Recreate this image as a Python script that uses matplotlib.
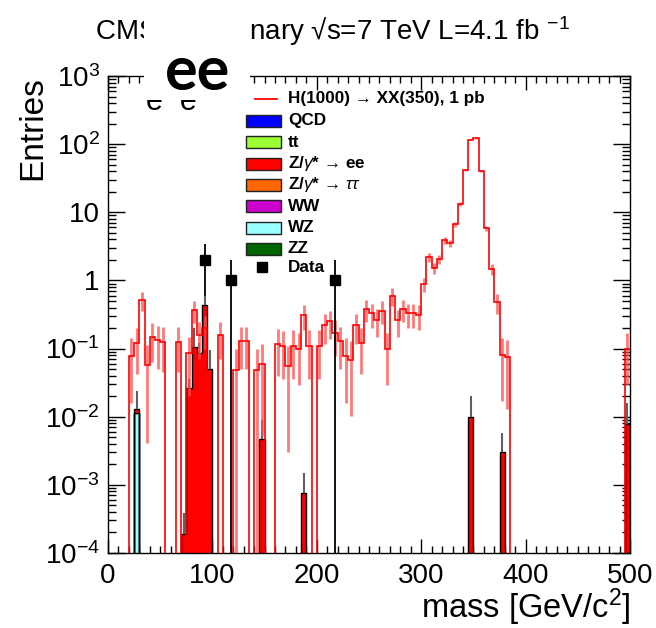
import numpy as np
import matplotlib.pyplot as plt
from matplotlib.patches import Rectangle
from matplotlib.lines import Line2D
from matplotlib.ticker import MultipleLocator, LogLocator, NullFormatter

plt.rcParams['font.family'] = ['Liberation Sans', 'DejaVu Sans']
plt.rcParams['mathtext.fontset'] = 'custom'
plt.rcParams['mathtext.rm'] = 'Liberation Sans'
plt.rcParams['mathtext.it'] = 'Liberation Sans:italic'
plt.rcParams['mathtext.bf'] = 'Liberation Sans:bold'

#-------------------------------------------------------
# binning: 100 bins of 5 GeV
edges = np.linspace(0, 500, 101)
centers = 0.5 * (edges[1:] + edges[:-1])

# signal H(1000) -> XX(350), 1 pb
signal = [0, 0, 0, 0, 0.079, 0.12, 0.52, 0.058, 0.15, 0.132,
          0.125, 0, 0, 0.125, 0, 0.085, 0.37, 0.16, 0.2, 0,
          0, 0.16, 0, 0, 0.048, 0.13, 0.13, 0, 0.048, 0.06,
          0, 0, 0.115, 0.109, 0.056, 0.11, 0.1, 0.31, 0.11, 0,
          0.11, 0.22, 0.25, 0.17, 0.13, 0.079, 0.069, 0.22, 0.12, 0.38,
          0.33, 0.265, 0.36, 0.10, 0.60, 0.26, 0.38, 0.33, 0.33, 0.31,
          0.89, 2.2, 1.5, 2.07, 3.9, 3.55, 6.7, 13.2, 42, 116,
          122, 41, 5.8, 1.48, 0.48, 0.08, 0.074, 0, 0, 0,
          0, 0, 0, 0, 0, 0, 0, 0, 0, 0,
          0, 0, 0, 0, 0, 0, 0, 0, 0, 0.1]

# backgrounds (only non-empty bins)
wz_bins = [5]
wz_vals = [0.0112]
zee_bins = [5, 14, 15, 16, 17, 18, 19, 29, 37, 69, 75, 99]
zee_vals = [0.0017, 0.00019, 0.026, 0.105, 0.085, 0.43, 0.05, 0.0047, 0.00075, 0.0099, 0.003, 0.0077]
stack_up = [0.024, 0.00038, 0.036, 0.2, 0.12, 0.6, 0.094, 0.0089, 0.0015, 0.02, 0.0058, 0.016]

# data
data_mass = [92.5, 117.5, 217.5]
data_counts = [2, 1, 1]

legend_labels = ['QCD', 'tt', r'Z/$\gamma$* → ee', r'Z/$\gamma$* → $\tau\tau$', 'WW', 'WZ', 'ZZ']
legend_colors = ['#0000ff', '#99ff33', '#ff0000', '#ff6600', '#cc00cc', '#99ffff', '#006600']

#-------------------------------------------------------
W, H = 656, 628
def fx(px):
    return px / W
def fy(py):
    return 1 - py / H

fig = plt.figure(figsize=(W / 100, H / 100), dpi=100)
ax = fig.add_axes([fx(108), fy(553), (630 - 108) / W, (553 - 76) / H])

floor = 1e-7
sig = np.array(signal, dtype=float)
wz = np.zeros(100)
wz[wz_bins] = wz_vals
zee = np.zeros(100)
zee[zee_bins] = zee_vals
tot = wz + zee

# stacked backgrounds
ax.stairs(np.maximum(wz, floor), edges, baseline=floor, fill=True,
          facecolor='#99ffff', edgecolor='black', lw=1, zorder=2)
ax.stairs(np.maximum(tot, floor), edges, baseline=np.maximum(wz, floor), fill=True,
          facecolor='#ff0000', edgecolor='black', lw=1, zorder=2)
ax.vlines(centers[zee_bins], tot[zee_bins], stack_up, color='#606060', lw=1.5, zorder=2)

# signal with MC stat errors
m = sig > 0
sig_err = np.sqrt(sig * 0.05)
ax.vlines(centers[m], np.maximum(sig - sig_err, floor)[m], (sig + sig_err)[m],
          color=(1, 0.3, 0.3, 0.75), lw=2, zorder=3)
ax.stairs(np.maximum(sig, floor), edges, baseline=None, color='#ff0000', lw=1.2, zorder=4)

# data
dc = np.array(data_counts, dtype=float)
de = np.sqrt(dc)
ax.vlines(data_mass, np.maximum(dc - de, floor), dc + de, color='black', lw=1.3, zorder=5)
ax.plot(data_mass, dc, 's', color='black', ms=6.5, zorder=6)

ax.set_yscale('log')
ax.set_xlim(0, 500)
ax.set_ylim(1e-4, 1e3)

ax.xaxis.set_major_locator(MultipleLocator(100))
ax.xaxis.set_minor_locator(MultipleLocator(10))
ax.set_yticks([1e-4, 1e-3, 1e-2, 1e-1, 1, 10, 1e2, 1e3])
ax.set_yticklabels(['$10^{-4}$', '$10^{-3}$', '$10^{-2}$', '$10^{-1}$', '1', '10', '$10^{2}$', '$10^{3}$'])
ax.yaxis.set_minor_locator(LogLocator(base=10, subs=range(2, 10)))
ax.yaxis.set_minor_formatter(NullFormatter())

ax.tick_params(which='both', direction='in', top=True, right=True, width=1, labelsize=20)
ax.tick_params(axis='x', which='major', length=10, pad=7)
ax.tick_params(axis='x', which='minor', length=5)
ax.tick_params(axis='y', which='major', length=12, pad=6)
ax.tick_params(axis='y', which='minor', length=6)
for s in ax.spines.values():
    s.set_linewidth(1)

ax.set_xlabel('mass [GeV/c$^{2}$]', fontsize=23.5, loc='right', va='baseline')
ax.xaxis.set_label_coords(1.0, (553 - 618) / 477)
ax.set_ylabel('Entries', fontsize=24, loc='top')
ax.yaxis.set_label_coords(-0.115, 1.0)

# legend
fig.add_artist(Line2D([fx(255), fx(277)], [fy(99), fy(99)], color='#ff0000', lw=1.3))
fig.text(fx(288), fy(99), 'H(1000) → XX(350), 1 pb', fontsize=12.3, fontweight='bold', va='center')
for i, (lab, col) in enumerate(zip(legend_labels, legend_colors)):
    yc = 121 + 21.3 * i
    fig.add_artist(Rectangle((fx(246), fy(yc + 6)), 35 / W, 12 / H, transform=fig.transFigure,
                             facecolor=col, edgecolor='#222222', lw=1))
    fig.text(fx(288), fy(yc), lab, fontsize=12.3, fontweight='bold', va='center')
fig.add_artist(Line2D([fx(262)], [fy(267)], marker='s', color='black', ms=6.5))
fig.text(fx(288), fy(267), 'Data', fontsize=12.3, fontweight='bold', va='center')

# header
fig.text(fx(95), fy(40), 'CMS Preliminary √s=7 TeV L=4.1 fb $^{-1}$', fontsize=20, va='baseline')
fig.text(fx(146), fy(110), 'e  e', fontsize=22, va='baseline')
fig.add_artist(Rectangle((fx(144), fy(100)), (250 - 144) / W, (100 - 8) / H, transform=fig.transFigure,
                         facecolor='white', edgecolor='none', zorder=10))
fig.text(fx(198), fy(72), 'ee', fontsize=44, fontweight='bold', family=['Lato', 'DejaVu Sans'],
         ha='center', va='center', zorder=11)

plt.savefig('out.png', dpi=100)
